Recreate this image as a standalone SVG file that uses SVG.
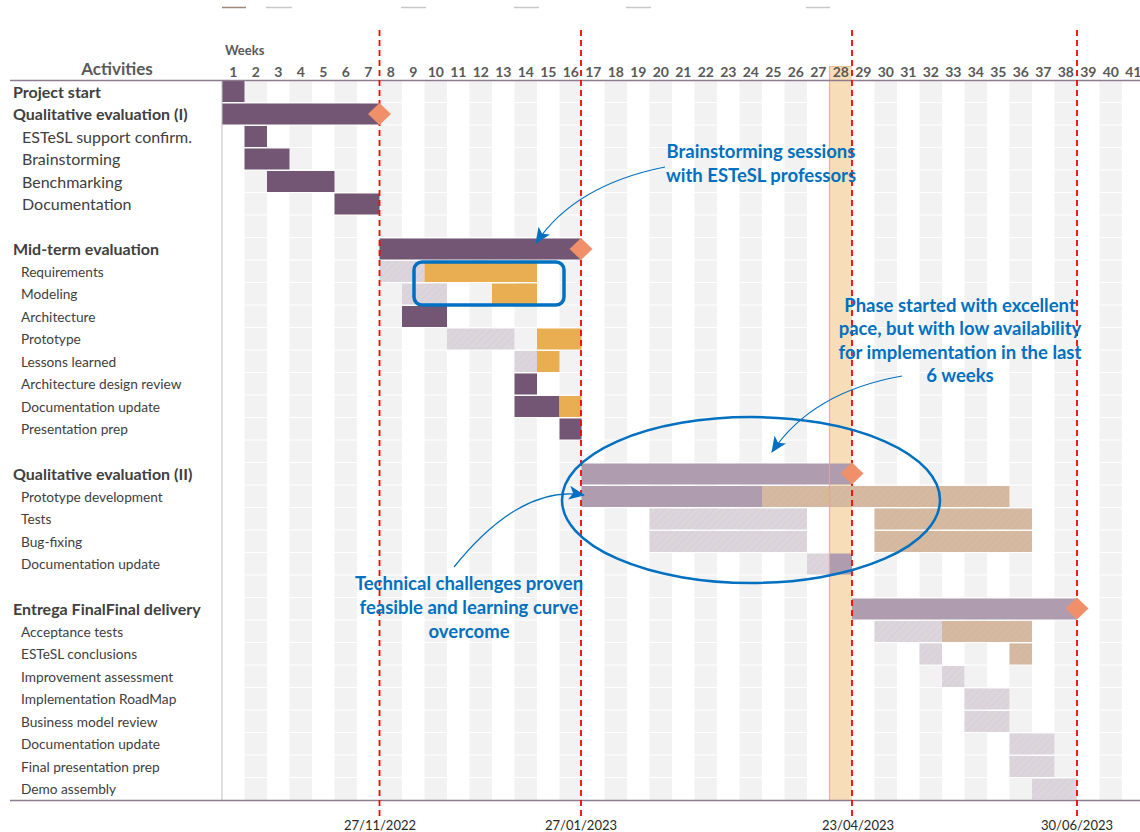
<svg xmlns="http://www.w3.org/2000/svg" width="1140" height="832" viewBox="0 0 1140 832">
  <style>
    .act { font-family: Lato, "Liberation Sans", sans-serif; fill: #404040; }
    .phase { font-size: 16px; font-weight: bold; }
    .task1 { font-size: 16px; }
    .task { font-size: 13.7px; }
    .wk { font-family: Lato, "Liberation Sans", sans-serif; font-size: 14px; font-weight: bold; fill: #595959; text-anchor: middle; }
    .hdr { font-family: Lato, "Liberation Sans", sans-serif; font-weight: bold; fill: #595959; }
    .date { font-family: Lato, "Liberation Sans", sans-serif; font-size: 13px; fill: #262626; text-anchor: middle; }
    .note { font-family: Lato, "Liberation Sans", sans-serif; font-size: 18.5px; font-weight: bold; fill: #0070C0; text-anchor: middle; }
    .dark { fill: #735673; }
    .mauve { fill: #AF9DAF; }
    .plan { fill: url(#hatchPlan); }
    .orange { fill: #E9AD52; }
    .tan { fill: url(#hatchTan); }
    .ms { fill: #F0906A; }
    .deadline { stroke: #FF0000; stroke-width: 1.8; stroke-dasharray: 6 4; fill: none; }
    .callout { stroke: #0070C0; fill: none; }
  </style>
  <defs>
    <pattern id="hatchPlan" width="5" height="5" patternUnits="userSpaceOnUse" patternTransform="rotate(45)">
      <rect width="5" height="5" fill="#DCD5DC"/>
      <line x1="0" y1="0" x2="0" y2="5" stroke="#D6CED6" stroke-width="1.5"/>
    </pattern>
    <pattern id="hatchTan" width="5" height="5" patternUnits="userSpaceOnUse" patternTransform="rotate(45)">
      <rect width="5" height="5" fill="#D5B9A1"/>
      <line x1="0" y1="0" x2="0" y2="5" stroke="#D0B49C" stroke-width="1.5"/>
    </pattern>
    <marker id="head" markerUnits="userSpaceOnUse" markerWidth="16" markerHeight="14" refX="15" refY="7" orient="auto">
      <path d="M0,0 L16,7 L0,14 L4,7 z" fill="#0070C0"/>
    </marker>
  </defs>

  <rect width="1140" height="832" fill="#FFFFFF"/>

  <!-- faint legend strokes at the top -->
  <g stroke-width="1.5">
    <line x1="222" y1="7.5" x2="246" y2="7.5" stroke="#9E8A74"/>
    <line x1="266" y1="7.5" x2="292" y2="7.5" stroke="#C8C8C8"/>
    <line x1="401" y1="7.5" x2="426" y2="7.5" stroke="#C8C8C8"/>
    <line x1="514" y1="7.5" x2="539" y2="7.5" stroke="#C8C8C8"/>
    <line x1="626" y1="7.5" x2="651" y2="7.5" stroke="#C8C8C8"/>
    <line x1="806" y1="7.5" x2="830" y2="7.5" stroke="#C8C8C8"/>
  </g>

  <!-- week stripes (even weeks shaded) -->
  <g id="grid" fill="#F2F2F2">
    <rect x="244.5" y="80.5" width="22.5" height="719.5"/>
    <rect x="289.5" y="80.5" width="22.5" height="719.5"/>
    <rect x="334.5" y="80.5" width="22.5" height="719.5"/>
    <rect x="379.5" y="80.5" width="22.5" height="719.5"/>
    <rect x="424.5" y="80.5" width="22.5" height="719.5"/>
    <rect x="469.5" y="80.5" width="22.5" height="719.5"/>
    <rect x="514.5" y="80.5" width="22.5" height="719.5"/>
    <rect x="559.5" y="80.5" width="22.5" height="719.5"/>
    <rect x="604.5" y="80.5" width="22.5" height="719.5"/>
    <rect x="649.5" y="80.5" width="22.5" height="719.5"/>
    <rect x="694.5" y="80.5" width="22.5" height="719.5"/>
    <rect x="739.5" y="80.5" width="22.5" height="719.5"/>
    <rect x="784.5" y="80.5" width="22.5" height="719.5"/>
    <rect x="874.5" y="80.5" width="22.5" height="719.5"/>
    <rect x="919.5" y="80.5" width="22.5" height="719.5"/>
    <rect x="964.5" y="80.5" width="22.5" height="719.5"/>
    <rect x="1009.5" y="80.5" width="22.5" height="719.5"/>
    <rect x="1054.5" y="80.5" width="22.5" height="719.5"/>
    <rect x="1099.5" y="80.5" width="22.5" height="719.5"/>
  </g>
  <!-- row separators -->
  <g stroke="#FFFFFF" stroke-width="1.2">
    <path d="M222 102.5H1140M222 125H1140M222 147.5H1140M222 170H1140M222 192.5H1140M222 215H1140M222 237.5H1140M222 260H1140M222 282.5H1140M222 305H1140M222 327.5H1140M222 350H1140M222 372.5H1140M222 395H1140M222 417.5H1140M222 440H1140M222 462.5H1140M222 485H1140M222 507.5H1140M222 530H1140M222 552.5H1140M222 575H1140M222 597.5H1140M222 620H1140M222 642.5H1140M222 665H1140M222 687.5H1140M222 710H1140M222 732.5H1140M222 755H1140M222 777.5H1140"/>
  </g>

  <!-- current week highlight (week 28) -->
  <rect x="829.5" y="66" width="22.5" height="734" fill="#F8DDB9"/>

  <!-- header -->
  <text class="hdr" x="225" y="55" font-size="13">Weeks</text>
  <text class="hdr" x="117" y="75" font-size="17" text-anchor="middle">Activities</text>
  <g id="week-numbers">
    <text class="wk" x="233.25" y="77">1</text>
    <text class="wk" x="255.75" y="77">2</text>
    <text class="wk" x="278.25" y="77">3</text>
    <text class="wk" x="300.75" y="77">4</text>
    <text class="wk" x="323.25" y="77">5</text>
    <text class="wk" x="345.75" y="77">6</text>
    <text class="wk" x="368.25" y="77">7</text>
    <text class="wk" x="390.75" y="77">8</text>
    <text class="wk" x="413.25" y="77">9</text>
    <text class="wk" x="435.75" y="77">10</text>
    <text class="wk" x="458.25" y="77">11</text>
    <text class="wk" x="480.75" y="77">12</text>
    <text class="wk" x="503.25" y="77">13</text>
    <text class="wk" x="525.75" y="77">14</text>
    <text class="wk" x="548.25" y="77">15</text>
    <text class="wk" x="570.75" y="77">16</text>
    <text class="wk" x="593.25" y="77">17</text>
    <text class="wk" x="615.75" y="77">18</text>
    <text class="wk" x="638.25" y="77">19</text>
    <text class="wk" x="660.75" y="77">20</text>
    <text class="wk" x="683.25" y="77">21</text>
    <text class="wk" x="705.75" y="77">22</text>
    <text class="wk" x="728.25" y="77">23</text>
    <text class="wk" x="750.75" y="77">24</text>
    <text class="wk" x="773.25" y="77">25</text>
    <text class="wk" x="795.75" y="77">26</text>
    <text class="wk" x="818.25" y="77">27</text>
    <text class="wk" x="840.75" y="77">28</text>
    <text class="wk" x="863.25" y="77">29</text>
    <text class="wk" x="885.75" y="77">30</text>
    <text class="wk" x="908.25" y="77">31</text>
    <text class="wk" x="930.75" y="77">32</text>
    <text class="wk" x="953.25" y="77">33</text>
    <text class="wk" x="975.75" y="77">34</text>
    <text class="wk" x="998.25" y="77">35</text>
    <text class="wk" x="1020.75" y="77">36</text>
    <text class="wk" x="1043.25" y="77">37</text>
    <text class="wk" x="1065.75" y="77">38</text>
    <text class="wk" x="1088.25" y="77">39</text>
    <text class="wk" x="1110.75" y="77">40</text>
    <text class="wk" x="1133.25" y="77">41</text>
  </g>

  <!-- activity labels -->
  <g id="activities" class="act">
    <text class="phase" x="13" y="97.5">Project start</text>
    <text class="phase" x="13" y="120">Qualitative evaluation (I)</text>
    <text class="task1" x="22" y="142.5">ESTeSL support confirm.</text>
    <text class="task1" x="22" y="165">Brainstorming</text>
    <text class="task1" x="22" y="187.5">Benchmarking</text>
    <text class="task1" x="22" y="210">Documentation</text>
    <text class="phase" x="13" y="255">Mid-term evaluation</text>
    <text class="task" x="21" y="276.5">Requirements</text>
    <text class="task" x="21" y="299">Modeling</text>
    <text class="task" x="21" y="321.5">Architecture</text>
    <text class="task" x="21" y="344">Prototype</text>
    <text class="task" x="21" y="366.5">Lessons learned</text>
    <text class="task" x="21" y="389">Architecture design review</text>
    <text class="task" x="21" y="411.5">Documentation update</text>
    <text class="task" x="21" y="434">Presentation prep</text>
    <text class="phase" x="13" y="479.5">Qualitative evaluation (II)</text>
    <text class="task" x="21" y="501.5">Prototype development</text>
    <text class="task" x="21" y="524">Tests</text>
    <text class="task" x="21" y="546.5">Bug-fixing</text>
    <text class="task" x="21" y="569">Documentation update</text>
    <text class="phase" x="13" y="614.5">Entrega FinalFinal delivery</text>
    <text class="task" x="21" y="636.5">Acceptance tests</text>
    <text class="task" x="21" y="659">ESTeSL conclusions</text>
    <text class="task" x="21" y="681.5">Improvement assessment</text>
    <text class="task" x="21" y="704">Implementation RoadMap</text>
    <text class="task" x="21" y="726.5">Business model review</text>
    <text class="task" x="21" y="749">Documentation update</text>
    <text class="task" x="21" y="771.5">Final presentation prep</text>
    <text class="task" x="21" y="794">Demo assembly</text>
  </g>

  <!-- phase 1 -->
  <g id="phase1">
    <rect class="dark" x="222" y="81" width="22.5" height="21"/>
    <rect class="dark" x="222" y="103.5" width="157.5" height="21"/>
    <rect class="dark" x="244.5" y="126" width="22.5" height="21"/>
    <rect class="dark" x="244.5" y="148.5" width="45" height="21"/>
    <rect class="dark" x="267" y="171" width="67.5" height="21"/>
    <rect class="dark" x="334.5" y="193.5" width="45" height="21"/>
  </g>

  <!-- phase 2 -->
  <g id="phase2">
    <rect class="dark" x="379.5" y="238.5" width="202" height="21"/>
    <rect class="plan" x="379.5" y="261" width="45" height="21"/>
    <rect class="orange" x="424.5" y="261" width="112.5" height="21"/>
    <rect class="plan" x="402" y="283.5" width="45" height="21"/>
    <rect class="orange" x="492" y="283.5" width="45" height="21"/>
    <rect class="dark" x="402" y="306" width="45" height="21"/>
    <rect class="plan" x="447" y="328.5" width="67.5" height="21"/>
    <rect class="orange" x="537" y="328.5" width="44.5" height="21"/>
    <rect class="plan" x="514.5" y="351" width="22.5" height="21"/>
    <rect class="orange" x="537" y="351" width="22.5" height="21"/>
    <rect class="dark" x="514.5" y="373.5" width="22.5" height="21"/>
    <rect class="dark" x="514.5" y="396" width="45" height="21"/>
    <rect class="orange" x="559.5" y="396" width="22" height="21"/>
    <rect class="dark" x="559.5" y="418.5" width="22" height="21"/>
  </g>

  <!-- phase 3 -->
  <g id="phase3">
    <rect class="mauve" x="581.5" y="463.5" width="270.5" height="21"/>
    <rect class="mauve" x="581.5" y="486" width="180.5" height="21"/>
    <rect class="tan" x="762" y="486" width="247.5" height="21"/>
    <rect class="plan" x="649.5" y="508.5" width="157.5" height="21"/>
    <rect class="tan" x="874.5" y="508.5" width="157.5" height="21"/>
    <rect class="plan" x="649.5" y="531" width="157.5" height="21"/>
    <rect class="tan" x="874.5" y="531" width="157.5" height="21"/>
    <rect class="plan" x="807" y="553.5" width="22.5" height="21"/>
    <rect class="mauve" x="829.5" y="553.5" width="22.5" height="21"/>
  </g>

  <!-- phase 4 -->
  <g id="phase4">
    <rect class="mauve" x="852" y="598.5" width="225" height="21"/>
    <rect class="plan" x="874.5" y="621" width="67.5" height="21"/>
    <rect class="tan" x="942" y="621" width="90" height="21"/>
    <rect class="plan" x="919.5" y="643.5" width="22.5" height="21"/>
    <rect class="tan" x="1009.5" y="643.5" width="22.5" height="21"/>
    <rect class="plan" x="942" y="666" width="22.5" height="21"/>
    <rect class="plan" x="964.5" y="688.5" width="45" height="21"/>
    <rect class="plan" x="964.5" y="711" width="45" height="21"/>
    <rect class="plan" x="1009.5" y="733.5" width="45" height="21"/>
    <rect class="plan" x="1009.5" y="756" width="45" height="21"/>
    <rect class="plan" x="1032" y="778.5" width="45" height="21"/>
  </g>

  <!-- week 28 edges drawn over the bars -->
  <line x1="829.5" y1="66" x2="829.5" y2="800" stroke="#E2AE6E" stroke-width="1.2" opacity="0.8"/>
  <line x1="829.5" y1="66.5" x2="852" y2="66.5" stroke="#E2AE6E" stroke-width="1" opacity="0.6"/>

  <!-- frame lines -->
  <line x1="222" y1="80" x2="222" y2="800" stroke="#BFBFBF" stroke-width="1"/>
  <line x1="10" y1="80.5" x2="1140" y2="80.5" stroke="#8E7C8E" stroke-width="1.5"/>
  <line x1="10" y1="800.5" x2="1140" y2="800.5" stroke="#8E7C8E" stroke-width="1.5"/>

  <!-- deadlines -->
  <g id="deadlines" class="deadline">
    <line x1="379.5" y1="30" x2="379.5" y2="818"/>
    <line x1="581" y1="30" x2="581" y2="818"/>
    <line x1="852" y1="30" x2="852" y2="818"/>
    <line x1="1077" y1="30" x2="1077" y2="818"/>
  </g>

  <!-- milestones -->
  <g id="milestones" class="ms">
    <path d="M379.5 103 L391 114 L379.5 125 L368 114 Z"/>
    <path d="M581 238 L592.5 249 L581 260 L569.5 249 Z"/>
    <path d="M852 462.5 L863.5 473.5 L852 484.5 L840.5 473.5 Z"/>
    <path d="M1077 597.5 L1088.5 608.5 L1077 619.5 L1065.5 608.5 Z"/>
  </g>

  <!-- dates -->
  <g id="dates">
    <text class="date" x="380" y="830">27/11/2022</text>
    <text class="date" x="581" y="830">27/01/2023</text>
    <text class="date" x="858" y="830">23/04/2023</text>
    <text class="date" x="1077" y="830">30/06/2023</text>
  </g>

  <!-- callouts -->
  <g id="callouts">
    <rect class="callout" x="414" y="262" width="150" height="43" rx="8" stroke-width="3.5"/>
    <ellipse class="callout" cx="751" cy="500" rx="189" ry="83" stroke-width="2.5"/>
  </g>

  <g id="connectors" class="callout" stroke-width="1.2">
    <path d="M665 167 Q575 185 536 243" marker-end="url(#head)"/>
    <path d="M902 376 Q812 392 772 452" marker-end="url(#head)"/>
    <path d="M454 567 Q520 485 584 495" marker-end="url(#head)"/>
  </g>

  <g id="notes">
    <text class="note" x="761" y="158">Brainstorming sessions</text>
    <text class="note" x="761" y="182">with ESTeSL professors</text>
    <text class="note" x="960" y="311.5">Phase started with excellent</text>
    <text class="note" x="960" y="335">pace, but with low availability</text>
    <text class="note" x="960" y="358.5">for implementation in the last</text>
    <text class="note" x="960" y="382">6 weeks</text>
    <text class="note" x="469" y="589.5">Technical challenges proven</text>
    <text class="note" x="469" y="613.5">feasible and learning curve</text>
    <text class="note" x="469" y="637.5">overcome</text>
  </g>
</svg>
